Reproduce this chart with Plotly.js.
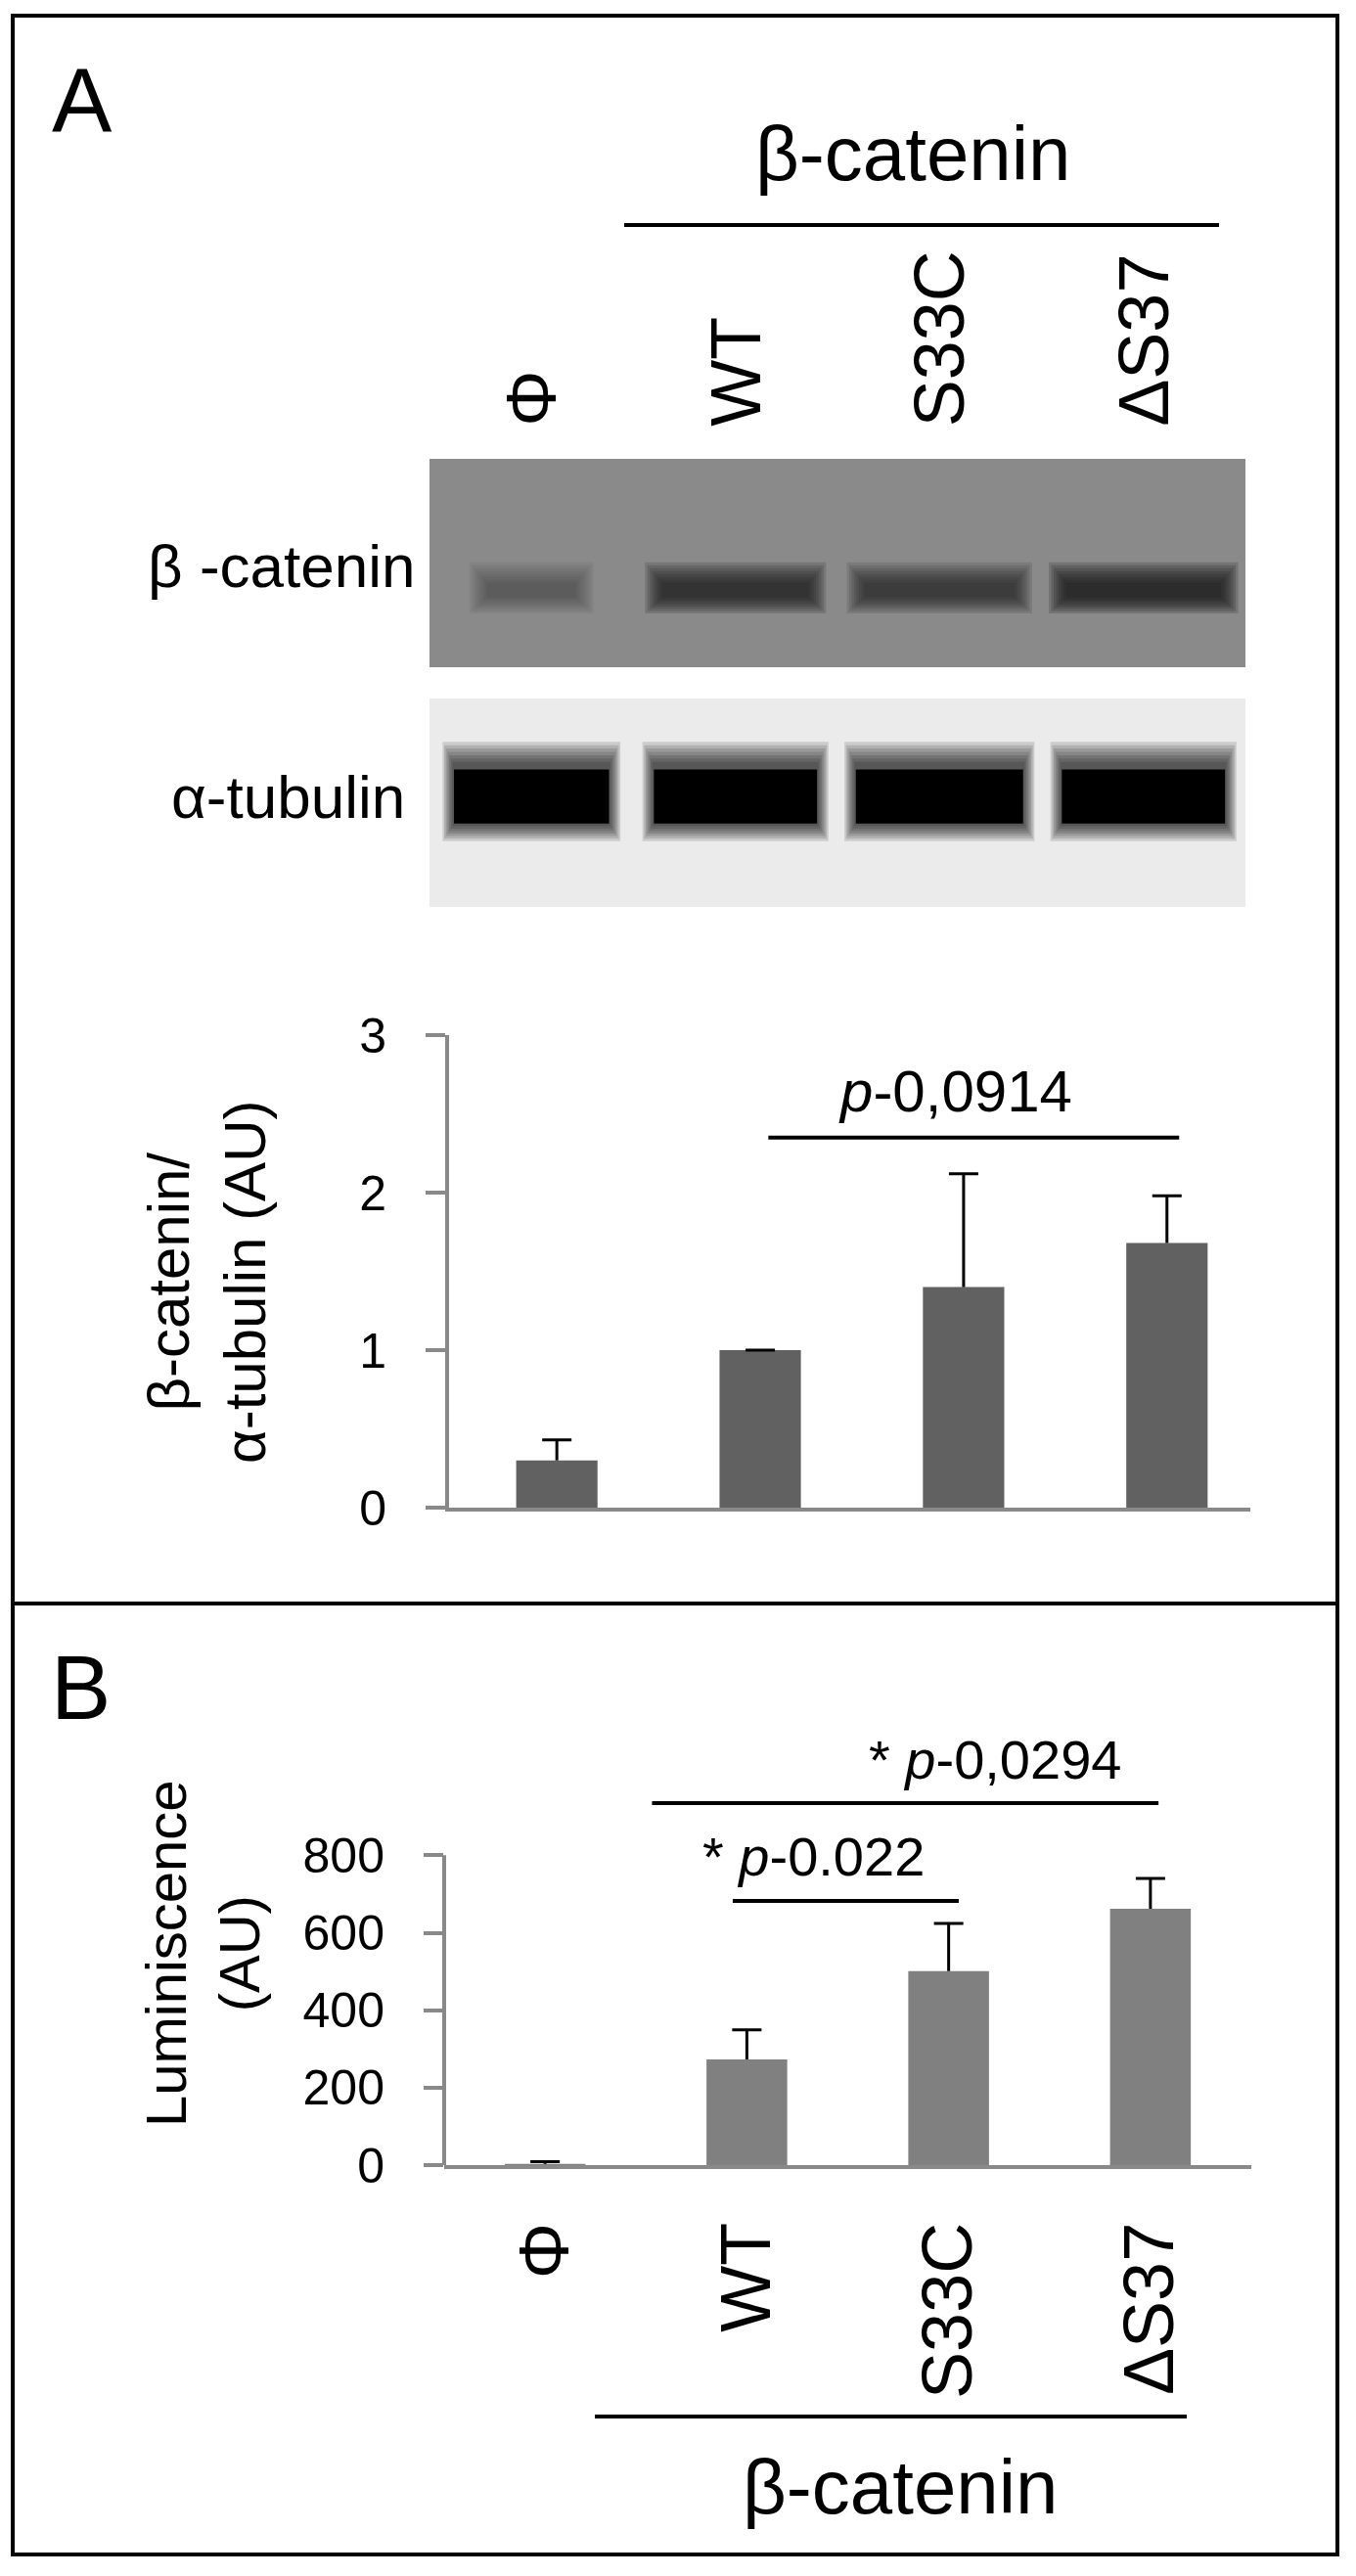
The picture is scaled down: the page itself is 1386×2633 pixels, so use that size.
<!DOCTYPE html>
<html><head><meta charset="utf-8">
<script src="https://cdn.plot.ly/plotly-3.0.1.min.js"></script>
<style>html,body{margin:0;padding:0;background:#fff}#chart{width:1386px;height:2633px}</style>
</head><body><div id="chart"></div>
<script>
// ---------- data ----------
const lanes = ['Φ', 'WT', 'S33C', 'ΔS37'];
const ratioMean = [0.30, 1.00, 1.40, 1.68];     // β-catenin / α-tubulin (AU)
const ratioErr  = [0.13, 0.00, 0.72, 0.30];
const lumMean   = [3, 273, 501, 662];            // Luminiscence (AU)
const lumErr    = [6, 76, 123, 78];
const betaBand    = [0.32, 0.80, 0.68, 0.97];    // relative band darkness on the blot
const tubulinBand = [1.00, 1.00, 1.00, 1.00];
const yTicksA = [0, 1, 2, 3];
const yTicksB = [0, 200, 400, 600, 800];

// ---------- helpers ----------
const W = 1386, H = 2633;
const PX = p => p / W;
const PY = p => 1 - p / H;
const FONT = 'Liberation Sans, Arial, Helvetica, sans-serif';
const AX = '#898989';
const laneIdx = lanes.map((_, i) => i);
const zeros = lanes.map(() => 0);

function barWithErrors(mean, err, xa, ya, color) {
  const tops = mean.map((m, i) => m + err[i]);
  return [
    { type: 'bar', x: laneIdx, y: mean, xaxis: xa, yaxis: ya, width: 0.4,
      marker: { color: color, line: { width: 0 } }, hoverinfo: 'skip', showlegend: false },
    // vertical whisker (no caps)
    { type: 'scatter', mode: 'markers', x: laneIdx, y: mean, xaxis: xa, yaxis: ya,
      marker: { size: 1, opacity: 0 }, hoverinfo: 'skip', showlegend: false,
      error_y: { type: 'data', symmetric: false, array: err, arrayminus: zeros, color: '#000', thickness: 3, width: 0 } },
    // cap at the top of the whisker
    { type: 'scatter', mode: 'markers', x: laneIdx, y: tops, xaxis: xa, yaxis: ya,
      marker: { size: 1, opacity: 0 }, hoverinfo: 'skip', showlegend: false,
      error_y: { type: 'data', symmetric: false, array: zeros, arrayminus: zeros, color: '#000', thickness: 3, width: 15 } }
  ];
}

const traces = [].concat(
  barWithErrors(ratioMean, ratioErr, 'x', 'y', '#616161'),
  barWithErrors(lumMean, lumErr, 'x2', 'y2', '#808080'),
  [
    { type: 'scatter', mode: 'markers', x: laneIdx, y: laneIdx.map(() => 0.5), xaxis: 'x3', yaxis: 'y3',
      marker: { opacity: 0 }, hoverinfo: 'skip', showlegend: false },
    { type: 'scatter', mode: 'markers', x: laneIdx, y: laneIdx.map(() => 0.5), xaxis: 'x4', yaxis: 'y4',
      marker: { opacity: 0 }, hoverinfo: 'skip', showlegend: false }
  ]
);

const shapes = [];
// outer frame & divider
shapes.push({ type: 'rect', xref: 'paper', yref: 'paper', x0: PX(13), x1: PX(1367), y0: PY(2611), y1: PY(16),
  line: { color: '#000', width: 4 }, fillcolor: 'rgba(0,0,0,0)' });
shapes.push({ type: 'line', xref: 'paper', yref: 'paper', x0: PX(13), x1: PX(1367), y0: PY(1639), y1: PY(1639),
  line: { color: '#000', width: 4 } });
// grouping lines
shapes.push({ type: 'line', xref: 'paper', yref: 'paper', x0: PX(638), x1: PX(1246), y0: PY(230), y1: PY(230),
  line: { color: '#000', width: 4 } });
shapes.push({ type: 'line', xref: 'paper', yref: 'paper', x0: PX(608), x1: PX(1213), y0: PY(2470), y1: PY(2470),
  line: { color: '#000', width: 4 } });

// blot backgrounds
shapes.push({ type: 'rect', xref: 'x3 domain', yref: 'y3 domain', x0: 0, x1: 1, y0: 0, y1: 1,
  fillcolor: '#8a8a8a', line: { width: 0 }, layer: 'below' });
shapes.push({ type: 'rect', xref: 'x4 domain', yref: 'y4 domain', x0: 0, x1: 1, y0: 0, y1: 1,
  fillcolor: '#ebebeb', line: { width: 0 }, layer: 'below' });

// β-catenin bands: soft edges via many stacked translucent rectangles
const betaHalfW = [0.22, 0.36, 0.37, 0.38];
betaBand.forEach((d, i) => {
  for (let k = 7; k >= 0; k--) {
    shapes.push({ type: 'rect', xref: 'x3', yref: 'y3',
      x0: i - betaHalfW[i] - 0.012 * k, x1: i + betaHalfW[i] + 0.012 * k,
      y0: 0.37 - 0.035 - 0.011 * k, y1: 0.37 + 0.035 + 0.014 * k,
      fillcolor: '#1a1a1a', opacity: d * 0.2, line: { width: 0 } });
  }
});
// α-tubulin bands: black core with soft halo (a little wider above)
const tubHalfW = [0.38, 0.40, 0.41, 0.40];
tubulinBand.forEach((d, i) => {
  for (let k = 7; k >= 1; k--) {
    shapes.push({ type: 'rect', xref: 'x4', yref: 'y4',
      x0: i - tubHalfW[i] - 0.008 * k, x1: i + tubHalfW[i] + 0.008 * k,
      y0: 0.40 - 0.012 * k, y1: 0.68 + 0.016 * k,
      fillcolor: '#000', opacity: d * 0.13, line: { width: 0 } });
  }
  shapes.push({ type: 'rect', xref: 'x4', yref: 'y4',
    x0: i - tubHalfW[i], x1: i + tubHalfW[i], y0: 0.40, y1: 0.66,
    fillcolor: '#000', opacity: d, line: { width: 0 } });
});

// B y-axis line (axis range extends above 800 to hold the significance marks)
shapes.push({ type: 'line', xref: 'x2 domain', yref: 'y2', x0: 0, x1: 0, y0: 0, y1: yTicksB[yTicksB.length - 1],
  line: { color: AX, width: 4 } });

// significance lines
shapes.push({ type: 'line', xref: 'x', yref: 'y', x0: 1.04, x1: 3.06, y0: 2.35, y1: 2.35, line: { color: '#000', width: 4 } });
shapes.push({ type: 'line', xref: 'x2', yref: 'y2', x0: 0.93, x1: 2.05, y0: 682, y1: 682, line: { color: '#000', width: 4 } });
shapes.push({ type: 'line', xref: 'x2', yref: 'y2', x0: 0.53, x1: 3.04, y0: 935, y1: 935, line: { color: '#000', width: 4 } });

const ann = [];
const txt = (text, x, y, size, extra) => Object.assign({ text, x, y, xref: 'paper', yref: 'paper',
  showarrow: false, xanchor: 'center', yanchor: 'middle', borderpad: 0,
  font: { family: FONT, size, color: '#000' } }, extra || {});

ann.push(txt('A', PX(84), PY(103), 92));
ann.push(txt('B', PX(82), PY(1725), 92));
ann.push(txt('β-catenin', PX(933), PY(157), 78));
ann.push(txt('β-catenin', PX(920), PY(2542), 78));
ann.push(txt('β -catenin', PX(425), PY(578), 62, { xanchor: 'right' }));
ann.push(txt('α-tubulin', PX(415), PY(814), 62, { xanchor: 'right' }));
// lane labels over the blots
lanes.forEach((l, i) => ann.push(txt(l, i, PY(437), 72, { xref: 'x3', yanchor: 'bottom', textangle: -90 })));
// axis titles
ann.push(txt('β-catenin/<br>α-tubulin (AU)', PX(211), PY(1310), 60, { textangle: -90 }));
ann.push(txt('Luminiscence<br>(AU)', PX(207), PY(1997), 58, { textangle: -90 }));
// p-values
ann.push(txt('<i>p</i>-0,0914', 1.96, 2.64, 60, { xref: 'x', yref: 'y' }));
ann.push(txt('* <i>p</i>-0.022', 1.33, 796, 56, { xref: 'x2', yref: 'y2' }));
ann.push(txt('* <i>p</i>-0,0294', 2.23, 1048, 56, { xref: 'x2', yref: 'y2' }));

const yCommon = { ticks: 'outside', ticklen: 20, tickwidth: 4, tickcolor: AX,
  showgrid: false, zeroline: false, fixedrange: true, ticklabelstandoff: 30,
  tickfont: { family: FONT, size: 50, color: '#000' } };

const layout = {
  width: W, height: H, margin: { l: 0, r: 0, t: 0, b: 0 },
  paper_bgcolor: '#fff', plot_bgcolor: 'rgba(0,0,0,0)', showlegend: false,
  barmode: 'overlay',
  xaxis: { domain: [PX(459), PX(1278)], range: [-0.53, 3.41], anchor: 'y',
    showline: true, linecolor: AX, linewidth: 4, ticks: '', showticklabels: false,
    showgrid: false, zeroline: false, fixedrange: true },
  yaxis: Object.assign({}, yCommon, { domain: [PY(1541), PY(1058)], range: [0, 3], anchor: 'x',
    tickvals: yTicksA, showline: true, linecolor: AX, linewidth: 4 }),
  xaxis2: { domain: [PX(454), PX(1279)], range: [-0.5, 3.5], anchor: 'y2',
    showline: true, linecolor: AX, linewidth: 4, ticks: '', tickangle: -90,
    tickvals: laneIdx, ticktext: lanes, ticklabelstandoff: 26,
    tickfont: { family: FONT, size: 72, color: '#000' },
    showgrid: false, zeroline: false, fixedrange: true },
  yaxis2: Object.assign({}, yCommon, { domain: [PY(2213), PY(2213 - 1100 * 0.3958)], range: [0, 1100], anchor: 'x2',
    tickvals: yTicksB, showline: false }),
  xaxis3: { domain: [PX(439), PX(1273)], range: [-0.5, 3.5], anchor: 'y3', visible: false, fixedrange: true },
  yaxis3: { domain: [PY(682), PY(469)], range: [0, 1], anchor: 'x3', visible: false, fixedrange: true },
  xaxis4: { domain: [PX(439), PX(1273)], range: [-0.5, 3.5], anchor: 'y4', visible: false, fixedrange: true },
  yaxis4: { domain: [PY(927), PY(714)], range: [0, 1], anchor: 'x4', visible: false, fixedrange: true },
  shapes: shapes,
  annotations: ann
};

Plotly.newPlot('chart', traces, layout, { staticPlot: true, displayModeBar: false });
</script>
</body></html>
